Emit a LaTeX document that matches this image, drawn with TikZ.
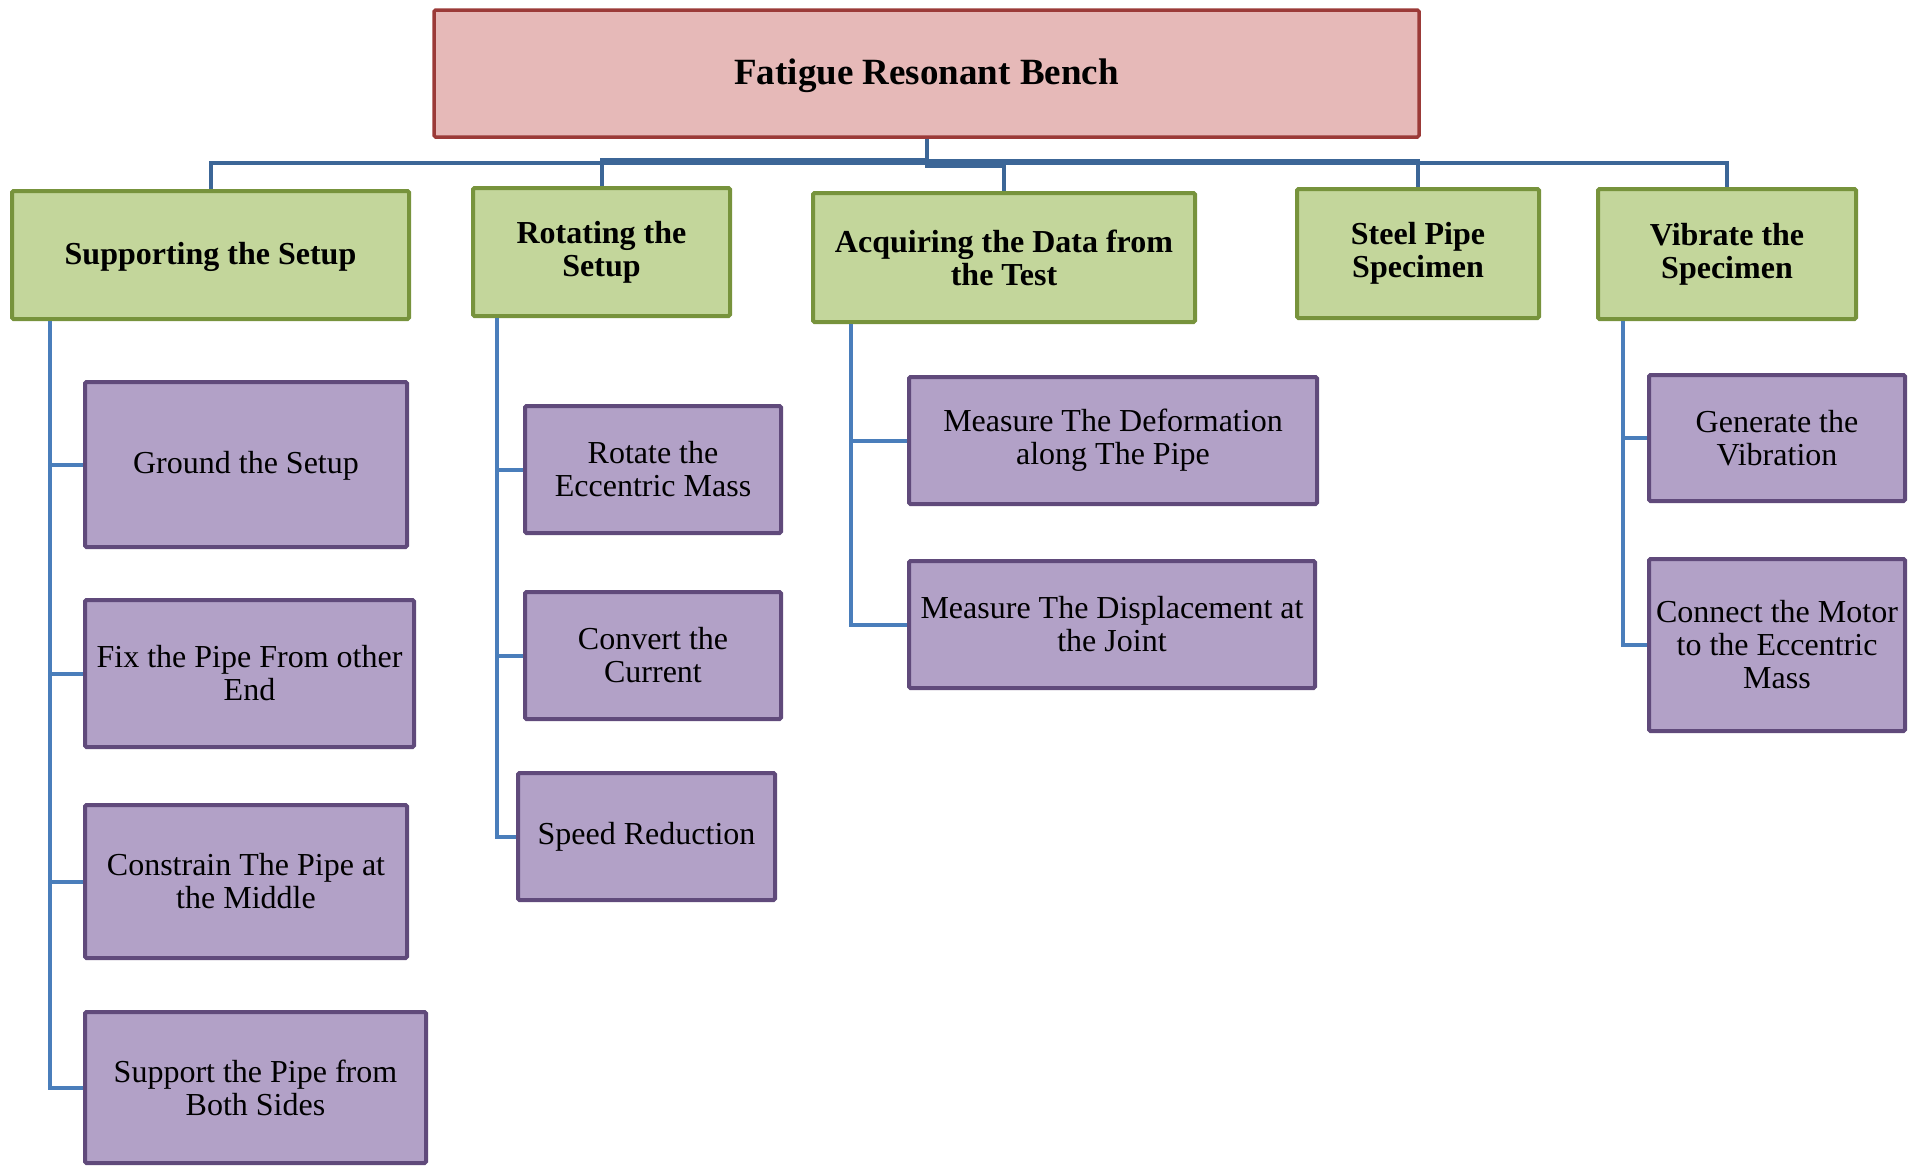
\documentclass[tikz,border=0pt]{standalone}
\usepackage{fontspec}
\setmainfont{Liberation Serif}
\usetikzlibrary{positioning}
\definecolor{rootfill}{HTML}{E6B9B8}
\definecolor{rootline}{HTML}{9B3A38}
\definecolor{taskfill}{HTML}{C3D69B}
\definecolor{taskline}{HTML}{77933C}
\definecolor{subfill}{HTML}{B2A1C7}
\definecolor{subline}{HTML}{604A7B}
\definecolor{busblue}{HTML}{3C6697}
\definecolor{linkblue}{HTML}{4A7EBB}
\tikzset{
  root/.style={
    rectangle,
    rounded corners=1.5pt,
    draw=rootline, line width=3.5pt,
    fill=rootfill,
    minimum width=985pt,
    minimum height=127pt,
    font=\bfseries\fontsize{37}{40}\selectfont,
    text centered
  },
  task/.style={
    rectangle,
    rounded corners=1.5pt,
    draw=taskline, line width=4pt,
    fill=taskfill,
    inner sep=2pt,
    align=center,
    font=\bfseries\fontsize{32}{33}\selectfont
  },
  subtask/.style={
    rectangle,
    rounded corners=1.5pt,
    draw=subline, line width=4pt,
    fill=subfill,
    inner sep=2pt,
    align=center,
    font=\fontsize{32}{33}\selectfont
  },
  oneline/.style={
    text depth=0.42em
  },
  bus/.style={
    draw=busblue,
    line width=4pt
  },
  link/.style={
    draw=linkblue,
    line width=4pt
  }
}

\begin{document}
\begin{tikzpicture}[x=1pt, y=-1pt]
\useasboundingbox (0,0) rectangle (1919,1168);

% nodes
\node[root, oneline] (bench) at (926.5,73.5) {Fatigue Resonant Bench};

%% level 1
\node[task, oneline, minimum width=397pt, minimum height=128pt] (sup) at (210.5,255) {Supporting the Setup};
\node[task, minimum width=257pt, minimum height=128pt] (rot) at (601.5,252) {Rotating the\\Setup};
\node[task, minimum width=382pt, minimum height=129pt] (acq) at (1004,257.5) {Acquiring the Data from\\the Test};
\node[task, minimum width=242pt, minimum height=129pt] (steel) at (1418,253.5) {Steel Pipe\\Specimen};
\node[task, minimum width=258pt, minimum height=130pt] (vib) at (1727,254) {Vibrate the\\Specimen};

%% supporting
\node[subtask, oneline, minimum width=322pt, minimum height=165pt, anchor=north west] (ground) at (83,380) {Ground the Setup};
\node[subtask, minimum width=329pt, minimum height=147pt, below = 49pt of ground.south west, anchor=north west] (fixpipe) {Fix the Pipe From other\\End};
\node[subtask, minimum width=322pt, minimum height=153pt, below = 54pt of fixpipe.south west, anchor=north west] (constrain) {Constrain The Pipe at\\the Middle};
\node[subtask, minimum width=341pt, minimum height=151pt, below = 50pt of constrain.south west, anchor=north west] (support) {Support the Pipe from\\Both Sides};

%% rotating
\node[subtask, minimum width=256pt, minimum height=127pt, anchor=north west] (rotmass) at (523,404) {Rotate the\\Eccentric Mass};
\node[subtask, minimum width=256pt, minimum height=127pt, below = 55pt of rotmass.south west, anchor=north west] (convert) {Convert the\\Current};
\node[subtask, minimum width=257pt, minimum height=127pt, below = 50pt of convert.south west, anchor=north west, xshift=-7pt] (speed) {Speed Reduction};

%% acquiring
\node[subtask, minimum width=408pt, minimum height=127pt, anchor=north west] (deform) at (907,375) {Measure The Deformation\\along The Pipe};
\node[subtask, minimum width=406pt, minimum height=127pt, below = 53pt of deform.south west, anchor=north west] (displace) {Measure The Displacement at\\the Joint};

%% vibrate
\node[subtask, minimum width=256pt, minimum height=126pt, anchor=north west] (generate) at (1647,373) {Generate the\\Vibration};
\node[subtask, minimum width=256pt, minimum height=172pt, below = 54pt of generate.south west, anchor=north west] (connect) {Connect the Motor\\to the Eccentric\\Mass};

% edges

%% bench
\draw [bus] (bench.south) -- ++(0,24) -| (sup.north);
\draw [bus] (bench.south) -- ++(0,21) -| (rot.north);
\draw [bus] (bench.south) -- ++(0,27) -| (acq.north);
\draw [bus] (bench.south) -- ++(0,22) -| (steel.north);
\draw [bus] (bench.south) -- ++(0,24) -| (vib.north);

%% sup
\coordinate[right=40pt of sup.south west] (t1);
\draw [link] (t1) |- (ground.west);
\draw [link] (t1) |- (fixpipe.west);
\draw [link] (t1) |- (constrain.west);
\draw [link] (t1) |- (support.west);

%% rot
\coordinate[right=26pt of rot.south west] (t2);
\draw [link] (t2) |- (rotmass.west);
\draw [link] (t2) |- (convert.west);
\draw [link] (t2) |- (speed.west);

%% acq
\coordinate[right=40pt of acq.south west] (t3);
\draw [link] (t3) |- (deform.west);
\draw [link] (t3) |- (displace.west);

%% vib
\coordinate[right=27pt of vib.south west] (t5);
\draw [link] (t5) |- (generate.west);
\draw [link] (t5) |- (connect.west);
\end{tikzpicture}
\end{document}
